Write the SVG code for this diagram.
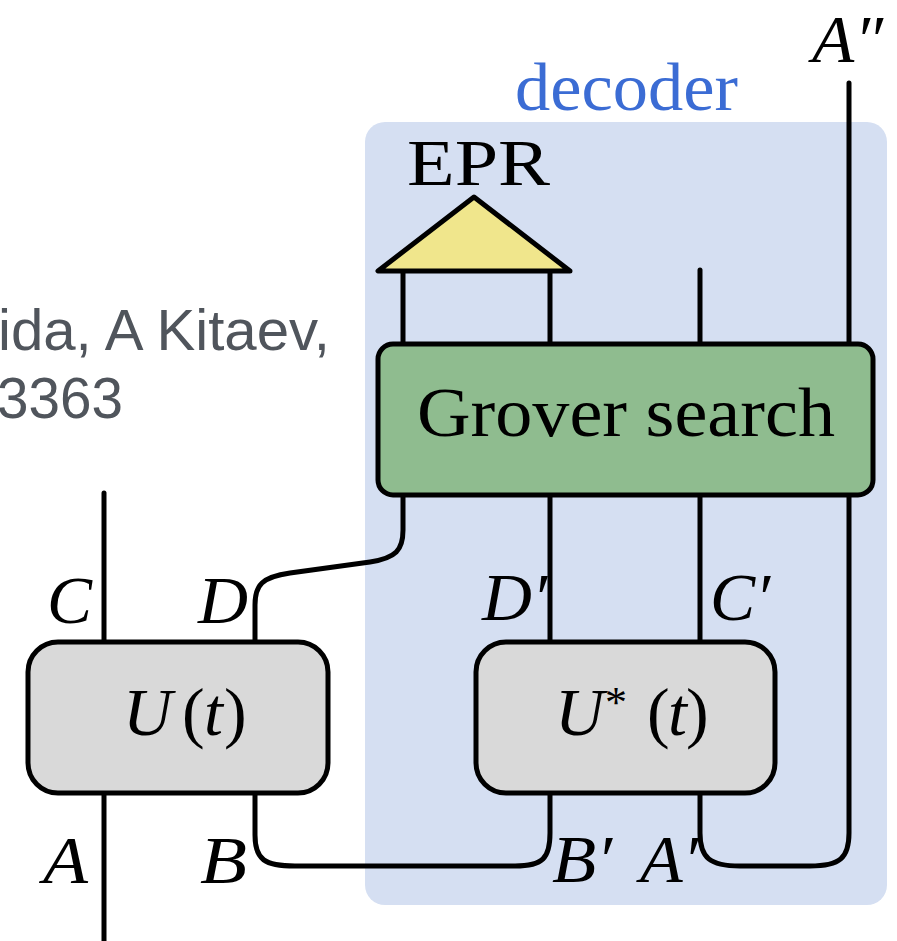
<svg xmlns="http://www.w3.org/2000/svg" width="897" height="941" viewBox="0 0 897 941">
<style>
.wire{fill:none;stroke:#000;stroke-width:5;stroke-linecap:round;stroke-linejoin:round}
.box{stroke:#000;stroke-width:5}
.lbl{font-family:"Liberation Serif","Times New Roman",serif;font-style:italic;font-size:68px;fill:#000}
.rm{font-family:"Liberation Serif","Times New Roman",serif;fill:#000}
.up{font-style:normal}
.gray{font-family:"Liberation Sans",Arial,sans-serif;font-size:57px;fill:#50555c}
</style>
<rect width="897" height="941" fill="#fff"/>
<text class="gray" x="-2" y="350" textLength="332" lengthAdjust="spacingAndGlyphs">ida, A Kitaev,</text>
<text class="gray" x="-3" y="418" textLength="126" lengthAdjust="spacingAndGlyphs">3363</text>
<g id="decoder">
<rect x="365" y="122" width="522" height="783" rx="20" fill="#d5dff2"/>
<text x="515" y="110" font-family="'Liberation Serif','Times New Roman',serif" font-size="68" fill="#3b6cd4" textLength="223" lengthAdjust="spacingAndGlyphs">decoder</text>
</g>
<g id="connectors">
<path class="wire" d="M104,493 V642"/>
<path class="wire" d="M104,793 V941"/>
<path class="wire" d="M255,642 V605 C255,585 262,577 290,573 L370,562 C396,558 403,550 403,530 V495"/>
<path class="wire" d="M255,793 V835 C255,860 265,866 295,866 H515 C543,866 550,858 550,833 V793"/>
<path class="wire" d="M700,793 V833 C700,858 710,866 740,866 H810 C840,866 849,858 849,833 V83"/>
<path class="wire" d="M550,495 V642"/>
<path class="wire" d="M700,495 V642"/>
<path class="wire" d="M403,271 V344"/>
<path class="wire" d="M550,271 V344"/>
<path class="wire" d="M700,270 V344"/>
</g>
<g id="epr">
<polygon points="474,197 378,271 570,271" fill="#f0e68c" stroke="#000" stroke-width="5" stroke-linejoin="round"/>
<text class="rm" x="407" y="185" font-size="66" textLength="143" lengthAdjust="spacingAndGlyphs">EPR</text>
</g>
<g id="grover">
<rect class="box" x="378" y="344" width="495" height="151" rx="15" fill="#8fbc8f"/>
<text class="rm" x="417" y="436" font-size="70" textLength="418" lengthAdjust="spacingAndGlyphs">Grover search</text>
</g>
<g id="U">
<rect class="box" x="28" y="642" width="300" height="151" rx="30" fill="#d9d9d9"/>
<text class="lbl" y="735"><tspan x="123">U</tspan><tspan class="up" x="182">(</tspan><tspan x="204">t</tspan><tspan class="up" x="224">)</tspan></text>
</g>
<g id="Ustar">
<rect class="box" x="476" y="642" width="299" height="151" rx="30" fill="#d9d9d9"/>
<text class="lbl" y="735"><tspan x="555">U</tspan><tspan class="up" x="605" y="717" font-size="44">*</tspan><tspan class="up" x="647" y="735">(</tspan><tspan x="668" y="735">t</tspan><tspan class="up" x="686" y="735">)</tspan></text>
</g>
<g id="labels">
<text class="lbl" x="47" y="623" textLength="45" lengthAdjust="spacingAndGlyphs">C</text>
<text class="lbl" x="198" y="623" textLength="50" lengthAdjust="spacingAndGlyphs">D</text>
<text class="lbl" x="43" y="883" textLength="45" lengthAdjust="spacingAndGlyphs">A</text>
<text class="lbl" x="200" y="883" textLength="47" lengthAdjust="spacingAndGlyphs">B</text>
<text class="lbl" x="482" y="620" textLength="65" lengthAdjust="spacingAndGlyphs">D′</text>
<text class="lbl" x="710" y="620" textLength="60" lengthAdjust="spacingAndGlyphs">C′</text>
<text class="lbl" x="552" y="882" textLength="60" lengthAdjust="spacingAndGlyphs">B′</text>
<text class="lbl" x="640" y="882" textLength="58" lengthAdjust="spacingAndGlyphs">A′</text>
<text class="lbl" x="812" y="62" textLength="71" lengthAdjust="spacingAndGlyphs">A″</text>
</g>
</svg>
